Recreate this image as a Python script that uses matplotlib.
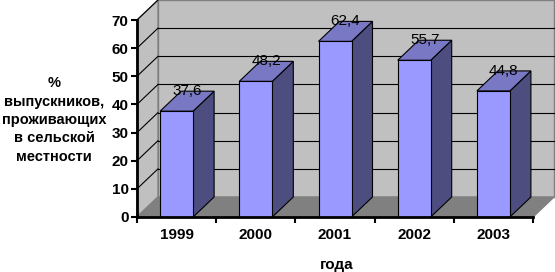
import numpy as np
import matplotlib
matplotlib.use("Agg")
from matplotlib import pyplot as plt
from matplotlib.patches import Polygon

plt.rcParams['font.family'] = ['Liberation Sans', 'DejaVu Sans']

years = ['1999', '2000', '2001', '2002', '2003']
values = [37.6, 48.2, 62.4, 55.7, 44.8]
labels = ['37,6', '48,2', '62,4', '55,7', '44,8']
yticks = [0, 10, 20, 30, 40, 50, 60, 70]

W, H = 555, 272
fig = plt.figure(figsize=(W / 100, H / 100), dpi=100)
# front plane of the 3d box, in pixels
x0, x1, y0, y1 = 137, 533, 217, 20
ax = fig.add_axes([x0 / W, (H - y0) / H, (x1 - x0) / W, (y0 - y1) / H])
ax.set_xlim(0, len(years))
ax.set_ylim(0, 70)
ax.patch.set_visible(False)

# depth of the box in data units (21 px right, 20 px up)
dx = 21 / ((x1 - x0) / len(years))
dy = 20 / ((y0 - y1) / 70)
n = len(years)

wall = '#C0C0C0'
# back wall
ax.add_patch(Polygon([(dx, dy), (n + dx, dy), (n + dx, 70 + dy), (dx, 70 + dy)],
                     closed=True, fc=wall, ec='#808080', lw=1, clip_on=False, zorder=0))
# side wall
ax.add_patch(Polygon([(0, 0), (0, 70), (dx, 70 + dy), (dx, dy)],
                     closed=True, fc=wall, ec='#808080', lw=1, clip_on=False, zorder=0))
# floor
ax.add_patch(Polygon([(0, 0), (n, 0), (n + dx, dy), (dx, dy)],
                     closed=True, fc='#808080', ec='#808080', lw=1, clip_on=False, zorder=0))

# gridlines
for v in yticks[1:-1]:
    ax.plot([dx, n + dx], [v + dy, v + dy], color='black', lw=0.8, clip_on=False, zorder=1)
for v in yticks[1:]:
    ax.plot([0, dx], [v, v + dy], color='black', lw=0.8, clip_on=False, zorder=1)

# bars
bw = 33 / ((x1 - x0) / n)
for i, v in enumerate(values):
    l = i + 0.5 - bw / 2
    r = i + 0.5 + bw / 2
    ax.add_patch(Polygon([(r, 0), (r + dx, dy), (r + dx, v + dy), (r, v)],
                         closed=True, fc='#4D4D80', ec='black', lw=0.8, clip_on=False, zorder=2))
    ax.add_patch(Polygon([(l, v), (r, v), (r + dx, v + dy), (l + dx, v + dy)],
                         closed=True, fc='#7878C4', ec='black', lw=0.8, clip_on=False, zorder=2))
    ax.add_patch(Polygon([(l, 0), (r, 0), (r, v), (l, v)],
                         closed=True, fc='#9999FF', ec='black', lw=0.8, clip_on=False, zorder=3))
    ax.text(i + 0.5 + dx / 2, v + dy, labels[i], ha='center', va='center',
            fontsize=11, zorder=4, clip_on=False)

for s in ['top', 'right']:
    ax.spines[s].set_visible(False)
for s in ['left', 'bottom']:
    ax.spines[s].set_linewidth(2)
    ax.spines[s].set_zorder(5)

ax.set_yticks(yticks)
ax.set_yticklabels([str(t) for t in yticks], fontsize=11, fontweight='bold')
ax.tick_params(axis='y', length=4, width=1.5, pad=2)
ax.set_xticks(np.arange(n + 1))
ax.set_xticklabels([])
ax.set_xticks(np.arange(n) + 0.5, minor=True)
ax.set_xticklabels(years, minor=True, fontsize=11, fontweight='bold')
ax.tick_params(axis='x', which='major', length=4, width=1.5)
ax.tick_params(axis='x', which='minor', length=0, pad=8)

fig.text(337 / W, 1 - 265 / H, 'года', ha='center', va='center',
         fontsize=11, fontweight='bold')
fig.text(54 / W, 1 - 120 / H, '%\nвыпускников,\nпроживающих\nв сельской\nместности',
         ha='center', va='center', fontsize=10.5, fontweight='bold', linespacing=1.4)

fig.savefig('out.png', dpi=100)
